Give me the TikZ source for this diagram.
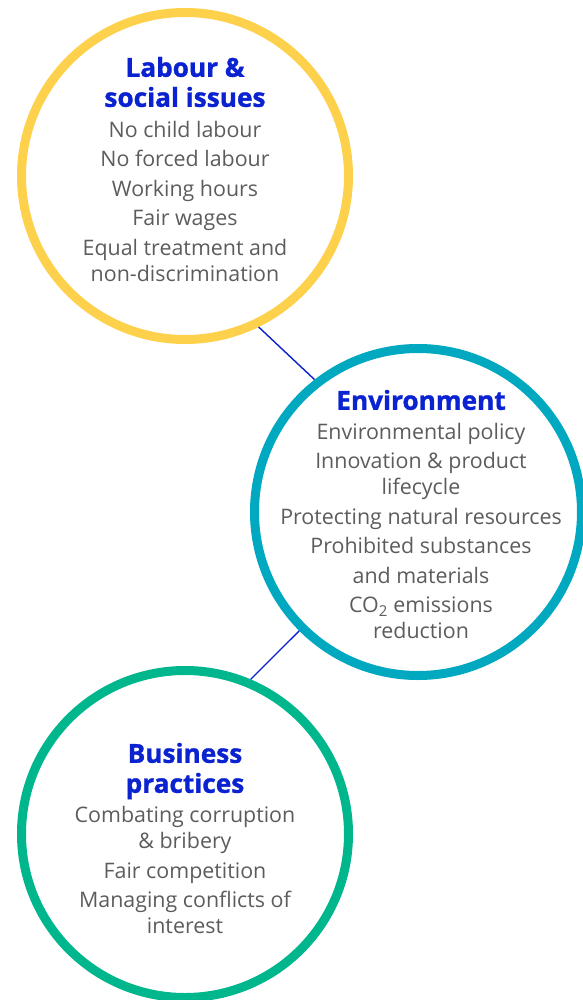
\documentclass[tikz,border=0pt]{standalone}
\usepackage{fontspec}
\setmainfont{Open Sans}
\newfontfamily\headfont[BoldFeatures={FakeBold=1.2}]{Open Sans}
\usetikzlibrary{positioning}
\definecolor{labyellow}{HTML}{FDD14B}
\definecolor{envteal}{HTML}{00A8C0}
\definecolor{bizgreen}{HTML}{00B68C}
\definecolor{headblue}{HTML}{0A22CF}
\definecolor{itemgrey}{HTML}{5C5C5C}
\tikzset{
  ring/.style={draw=#1, circle, line width=9pt, minimum size=327pt, inner sep=0pt},
  head/.style={text=headblue, font=\headfont\bfseries\fontsize{26.2}{30}\selectfont, align=center, inner sep=0pt},
  items/.style={text=itemgrey, font=\fontsize{21.4}{26}\selectfont, align=center, inner sep=0pt},
  link/.style={draw=headblue, line width=1.4pt}
}
\begin{document}
\begin{tikzpicture}[x=1pt,y=-1pt]
\useasboundingbox (0,0) rectangle (582,1000);

\node[ring=labyellow] (lab) at (185,176) {};
\node[ring=envteal] (env) at (418,512) {};
\node[ring=bizgreen] (biz) at (185,834) {};

\node[head] (labhead) at (185,82) {Labour \&\\social issues};
\node[items] (labitems) at (185,201) {No child labour\\[3.5pt]No forced labour\\[3.5pt]Working hours\\[3.5pt]Fair wages\\[3.5pt]Equal treatment and\\non-discrimination};

\node[head] (envhead) at (421,400) {Environment};
\node[items] (envitems) at (421,531) {Environmental policy\\[3.5pt]Innovation \& product\\lifecycle\\[3.5pt]Protecting natural resources\\[3.5pt]Prohibited substances\\[3.5pt]and materials\\[3.5pt]CO\textsubscript{2} emissions\\reduction};

\node[head] (bizhead) at (185,771) {Business\\practices};
\node[items] (bizitems) at (185,870) {Combating corruption\\\& bribery\\[3.5pt]Fair competition\\[3.5pt]Managing conflicts of\\interest};

\draw[link] (lab.-64) -- (env.128);
\draw[link] (env.225) -- (biz.67);

\end{tikzpicture}
\end{document}
